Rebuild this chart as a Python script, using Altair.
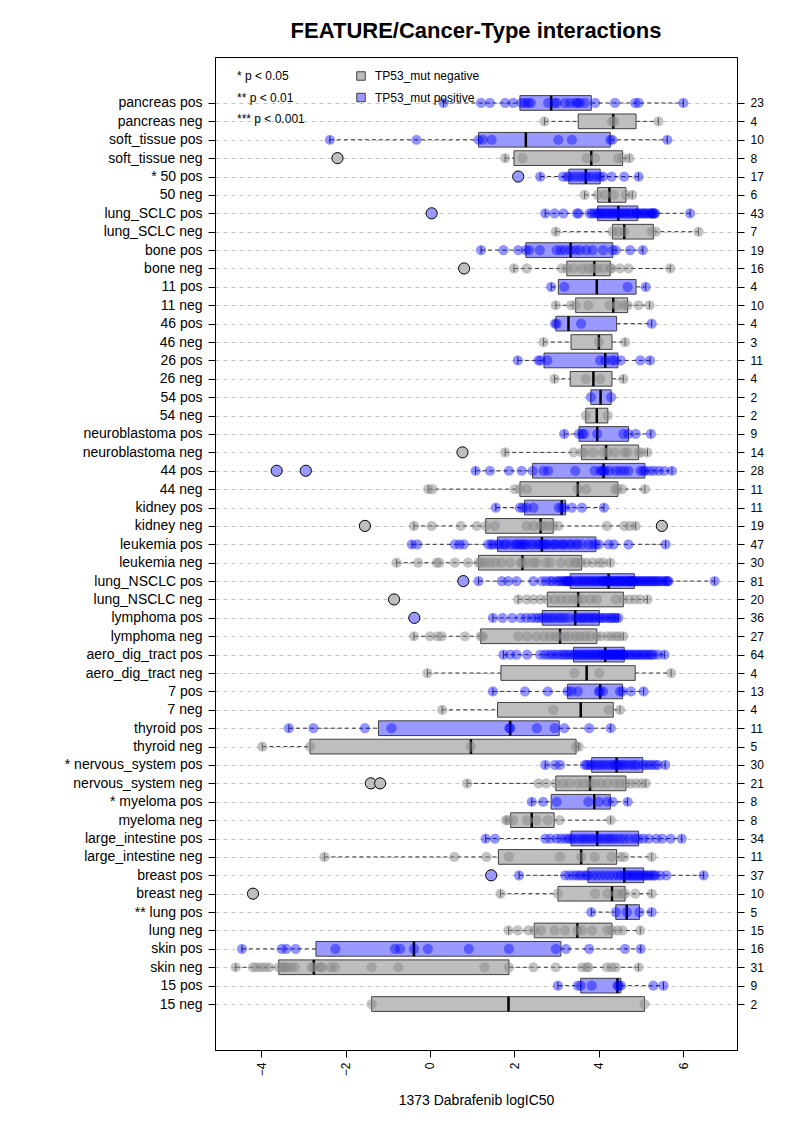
import json
import altair as alt
import pandas as pd

# ---------------- data (rows listed top -> bottom) ----------------
names = ["pancreas pos", "pancreas neg", "soft_tissue pos", "soft_tissue neg", "* 50 pos", "50 neg",
         "lung_SCLC pos", "lung_SCLC neg", "bone pos", "bone neg", "11 pos", "11 neg", "46 pos", "46 neg",
         "26 pos", "26 neg", "54 pos", "54 neg", "neuroblastoma pos", "neuroblastoma neg", "44 pos", "44 neg",
         "kidney pos", "kidney neg", "leukemia pos", "leukemia neg", "lung_NSCLC pos", "lung_NSCLC neg",
         "lymphoma pos", "lymphoma neg", "aero_dig_tract pos", "aero_dig_tract neg", "7 pos", "7 neg",
         "thyroid pos", "thyroid neg", "* nervous_system pos", "nervous_system neg", "* myeloma pos",
         "myeloma neg", "large_intestine pos", "large_intestine neg", "breast pos", "breast neg",
         "** lung pos", "lung neg", "skin pos", "skin neg", "15 pos", "15 neg"]
counts = [23, 4, 10, 8, 17, 6, 43, 7, 19, 16, 4, 10, 4, 3, 11, 4, 2, 2, 9, 14, 28, 11, 11, 19, 47, 30,
          81, 20, 36, 27, 64, 4, 13, 4, 11, 5, 30, 21, 8, 8, 34, 11, 37, 10, 5, 15, 16, 31, 9, 2]
whisker_lo = [0.32, 2.71, -2.37, 1.78, 2.61, 3.66, 2.73, 2.98, 1.21, 1.99, 2.87, 2.98, 2.96, 2.69, 2.08, 2.95,
              3.81, 3.69, 3.18, 1.78, 1.08, -0.04, 1.56, -0.38, -0.43, -0.79, 1.15, 2.09, 1.49, -0.38, 1.74,
              -0.06, 1.49, 0.29, -3.34, -3.97, 2.73, 0.88, 2.41, 1.8, 1.32, -2.5, 2.11, 1.67, 3.82, 1.86,
              -4.45, -4.6, 3.03, -1.38]
q1 = [2.13, 3.51, 1.15, 1.99, 3.29, 3.97, 3.97, 4.32, 2.27, 3.24, 3.04, 3.45, 2.98, 3.34, 2.70, 3.32,
      3.81, 3.69, 3.53, 3.59, 2.43, 2.13, 2.24, 1.32, 1.6, 1.15, 3.32, 2.78, 2.66, 1.2, 3.4,
      1.68, 3.26, 1.6, -1.22, -2.84, 3.83, 2.98, 2.87, 1.91, 3.34, 1.62, 3.74, 3.03, 4.4, 2.47,
      -2.70, -3.58, 3.57, -1.38]
median = [2.87, 4.34, 2.27, 3.82, 3.69, 4.25, 4.46, 4.6, 3.33, 3.89, 3.95, 4.34, 3.28, 4.0, 4.15, 3.87,
          4.04, 3.95, 3.96, 4.17, 4.11, 3.5, 3.12, 2.62, 2.65, 2.19, 4.23, 3.51, 3.44, 3.08, 4.15,
          3.71, 4.03, 3.57, 1.9, 0.97, 4.42, 3.79, 3.89, 2.41, 3.96, 3.58, 4.6, 4.31, 4.66, 3.49,
          -0.38, -2.75, 4.44, 1.86]
q3 = [3.82, 4.88, 4.27, 4.56, 4.03, 4.64, 4.92, 5.29, 4.33, 4.27, 4.88, 4.68, 4.42, 4.31, 4.45, 4.31,
      4.29, 4.21, 4.70, 4.94, 5.09, 4.45, 3.21, 2.92, 3.93, 3.59, 4.84, 4.58, 4.01, 3.95, 4.6,
      4.86, 4.56, 4.34, 3.06, 3.46, 5.04, 4.64, 4.27, 2.94, 4.94, 4.42, 5.06, 4.62, 4.96, 4.31,
      3.10, 1.87, 4.52, 5.08]
whisker_hi = [6.0, 5.41, 5.62, 4.72, 4.94, 4.79, 6.16, 6.36, 5.04, 5.69, 5.11, 5.2, 5.25, 4.62, 5.21, 4.58,
              4.29, 4.21, 5.23, 5.15, 5.73, 5.09, 4.12, 4.87, 5.58, 4.27, 6.74, 5.15, 4.46, 4.58, 5.55,
              5.71, 5.06, 4.5, 4.28, 3.52, 5.57, 5.11, 4.68, 4.28, 5.96, 5.25, 6.48, 5.25, 5.25, 4.98,
              4.99, 4.94, 5.53, 5.08]
outliers = [[], [], [], [-2.19], [2.09], [], [0.04], [], [], [0.81], [], [], [], [], [], [], [], [], [],
            [0.77], [-3.63, -2.94], [], [], [-1.54, 5.49], [], [], [0.79], [-0.85], [-0.37], [], [], [],
            [], [], [], [], [], [-1.40, -1.18], [], [], [], [], [1.45], [-4.19], [], [], [], [], [], []]
cell_values = [
    [0.32, 1.21, 1.42, 1.78, 1.97, 2.17, 2.25, 2.33, 2.39, 2.8, 2.95, 3.0, 3.2, 3.32, 3.44, 3.5, 3.55, 3.67,
     3.91, 4.38, 4.86, 4.94, 6.0],
    [2.71, 4.31, 4.36, 5.41],
    [-2.37, -0.32, 1.15, 1.25, 1.46, 3.04, 3.36, 4.27, 4.32, 5.62],
    [-2.19, 1.78, 2.19, 3.71, 3.91, 4.46, 4.56, 4.72],
    [2.09, 2.61, 3.15, 3.25, 3.3, 3.4, 3.5, 3.6, 3.69, 3.75, 3.85, 3.95, 4.03, 4.1, 4.3, 4.6, 4.94],
    [3.66, 3.97, 4.15, 4.35, 4.64, 4.79],
    [0.04, 2.73, 2.95, 3.16, 3.48, 3.52, 3.78, 3.84, 3.9, 3.96, 3.99, 4.03, 4.08, 4.12, 4.18, 4.22, 4.27,
     4.31, 4.36, 4.41, 4.46, 4.5, 4.55, 4.61, 4.64, 4.7, 4.74, 4.8, 4.86, 4.9, 4.92, 4.97, 5.02, 5.06, 5.1,
     5.14, 5.19, 5.23, 5.26, 5.29, 5.31, 5.33, 6.16],
    [2.98, 4.32, 4.45, 4.6, 5.25, 5.35, 6.36],
    [1.21, 1.74, 2.09, 2.27, 2.35, 2.6, 3.0, 3.1, 3.2, 3.33, 3.45, 3.55, 3.7, 3.85, 4.1, 4.33, 4.4, 4.74, 5.04],
    [0.81, 1.99, 2.29, 3.12, 3.24, 3.4, 3.6, 3.75, 3.85, 3.95, 4.1, 4.27, 4.3, 4.5, 4.7, 5.69],
    [2.87, 3.18, 4.68, 5.11],
    [2.98, 3.34, 3.45, 3.75, 4.25, 4.43, 4.6, 4.68, 4.94, 5.2],
    [2.96, 3.0, 3.58, 5.25],
    [2.69, 4.0, 4.62],
    [2.08, 2.57, 2.62, 2.78, 4.03, 4.15, 4.3, 4.38, 4.52, 4.98, 5.21],
    [2.95, 3.69, 4.03, 4.58],
    [3.81, 4.29],
    [3.69, 4.21],
    [3.18, 3.53, 3.6, 3.65, 3.96, 4.58, 4.7, 4.87, 5.23],
    [0.77, 1.78, 3.4, 3.59, 3.66, 3.87, 4.1, 4.2, 4.38, 4.6, 4.68, 4.94, 5.0, 5.15],
    [-3.63, -2.94, 1.08, 1.42, 1.87, 2.17, 2.43, 2.69, 2.8, 3.44, 3.9, 4.03, 4.08, 4.11, 4.15, 4.25, 4.4,
     4.5, 4.6, 4.7, 4.98, 5.05, 5.1, 5.2, 5.3, 5.42, 5.55, 5.73],
    [-0.04, 0.06, 2.01, 2.13, 2.3, 3.5, 3.7, 4.38, 4.45, 4.55, 5.09],
    [1.56, 2.13, 2.2, 2.28, 2.45, 3.05, 3.12, 3.18, 3.36, 3.6, 4.12],
    [-1.54, -0.38, 0.04, 0.73, 1.11, 1.32, 1.54, 2.29, 2.45, 2.62, 2.7, 2.8, 2.92, 3.04, 4.19, 4.6, 4.73,
     4.87, 5.49],
    [-0.43, -0.3, 0.59, 0.7, 0.8, 1.38, 1.45, 1.5, 1.6, 1.65, 1.75, 1.8, 1.9, 2.0, 2.05, 2.1, 2.15, 2.2,
     2.25, 2.3, 2.4, 2.45, 2.55, 2.6, 2.65, 2.7, 2.75, 2.8, 2.9, 2.95, 3.0, 3.1, 3.15, 3.2, 3.3, 3.35, 3.45,
     3.5, 3.6, 3.75, 3.85, 3.93, 4.0, 4.23, 4.35, 4.7, 5.58],
    [-0.79, -0.28, 0.16, 0.22, 0.59, 0.9, 1.15, 1.2, 1.3, 1.42, 1.55, 1.7, 1.9, 2.15, 2.19, 2.3, 2.45, 2.52,
     2.75, 2.85, 3.1, 3.3, 3.43, 3.5, 3.59, 3.7, 3.85, 4.0, 4.1, 4.27],
    [0.79, 1.15, 1.7, 1.85, 2.05, 2.45, 2.65, 2.75, 2.85, 2.9, 3.0, 3.05, 3.1, 3.15, 3.2, 3.22, 3.25, 3.28,
     3.3, 3.32, 3.38, 3.45, 3.5, 3.55, 3.6, 3.65, 3.7, 3.75, 3.8, 3.85, 3.9, 3.95, 4.0, 4.05, 4.08, 4.1,
     4.15, 4.18, 4.2, 4.23, 4.26, 4.3, 4.33, 4.36, 4.4, 4.43, 4.46, 4.5, 4.53, 4.56, 4.6, 4.63, 4.66, 4.7,
     4.73, 4.76, 4.78, 4.8, 4.82, 4.84, 4.88, 4.92, 4.96, 5.0, 5.04, 5.08, 5.12, 5.16, 5.2, 5.24, 5.28,
     5.32, 5.36, 5.4, 5.45, 5.5, 5.55, 5.6, 5.62, 5.65, 6.74],
    [-0.85, 2.09, 2.29, 2.45, 2.62, 2.78, 2.95, 3.1, 3.25, 3.4, 3.51, 3.62, 3.8, 3.95, 4.4, 4.58, 4.72,
     4.85, 4.98, 5.15],
    [-0.37, 1.49, 1.72, 1.95, 2.15, 2.28, 2.4, 2.5, 2.58, 2.66, 2.72, 2.8, 2.88, 2.95, 3.05, 3.12, 3.2, 3.3,
     3.44, 3.5, 3.58, 3.62, 3.68, 3.75, 3.8, 3.87, 3.92, 4.01, 4.05, 4.12, 4.18, 4.25, 4.3, 4.36, 4.4, 4.46],
    [-0.38, 0.0, 0.18, 0.28, 0.83, 1.2, 1.25, 2.09, 2.3, 2.52, 2.7, 2.85, 2.98, 3.08, 3.2, 3.3, 3.45, 3.55,
     3.68, 3.8, 3.95, 4.05, 4.2, 4.3, 4.4, 4.48, 4.58],
    [1.74, 1.9, 2.05, 2.3, 2.61, 2.72, 2.8, 2.88, 2.95, 3.02, 3.1, 3.16, 3.22, 3.28, 3.34, 3.4, 3.45, 3.5,
     3.55, 3.6, 3.65, 3.7, 3.75, 3.8, 3.85, 3.9, 3.95, 4.0, 4.05, 4.08, 4.12, 4.15, 4.18, 4.2, 4.23, 4.26,
     4.29, 4.32, 4.35, 4.38, 4.41, 4.44, 4.47, 4.5, 4.53, 4.55, 4.58, 4.6, 4.65, 4.7, 4.75, 4.8, 4.85, 4.9,
     4.95, 5.0, 5.05, 5.1, 5.15, 5.2, 5.25, 5.3, 5.4, 5.55],
    [-0.06, 3.42, 4.01, 5.71],
    [1.49, 2.25, 2.79, 3.26, 3.35, 3.5, 4.0, 4.03, 4.1, 4.5, 4.56, 4.76, 5.06],
    [0.29, 2.92, 4.23, 4.5],
    [-3.34, -2.76, -1.54, -0.91, 1.88, 1.9, 2.53, 2.95, 3.18, 3.77, 4.28],
    [-3.97, -2.84, 0.97, 3.46, 3.52],
    [2.73, 2.96, 3.08, 3.67, 3.72, 3.78, 3.83, 3.9, 3.98, 4.05, 4.12, 4.2, 4.28, 4.35, 4.4, 4.44, 4.5, 4.55,
     4.62, 4.7, 4.78, 4.85, 4.92, 5.04, 5.1, 5.18, 5.25, 5.33, 5.4, 5.57],
    [-1.40, -1.18, 0.88, 2.57, 2.75, 2.98, 3.15, 3.3, 3.5, 3.65, 3.79, 3.9, 4.05, 4.2, 4.38, 4.5, 4.64,
     4.75, 4.88, 5.0, 5.11],
    [2.41, 2.68, 3.0, 3.75, 4.0, 4.2, 4.33, 4.68],
    [1.8, 1.85, 1.97, 2.3, 2.52, 2.79, 3.07, 4.28],
    [1.32, 1.54, 2.73, 2.85, 3.0, 3.1, 3.2, 3.28, 3.34, 3.4, 3.5, 3.58, 3.65, 3.72, 3.8, 3.88, 3.96, 4.02,
     4.1, 4.18, 4.25, 4.32, 4.4, 4.5, 4.6, 4.72, 4.85, 4.94, 5.05, 5.18, 5.36, 5.5, 5.7, 5.96],
    [-2.5, 0.58, 1.34, 1.87, 3.08, 3.58, 3.9, 4.3, 4.5, 4.6, 5.25],
    [1.45, 2.11, 3.2, 3.3, 3.4, 3.48, 3.55, 3.62, 3.7, 3.74, 3.85, 3.95, 4.05, 4.15, 4.25, 4.35, 4.45, 4.52,
     4.6, 4.65, 4.7, 4.75, 4.8, 4.85, 4.9, 4.95, 5.0, 5.06, 5.1, 5.15, 5.2, 5.25, 5.3, 5.34, 5.45, 5.6, 6.48],
    [-4.19, 1.67, 3.03, 3.91, 4.2, 4.42, 4.55, 4.62, 4.86, 5.25],
    [3.82, 4.4, 4.66, 4.96, 5.25],
    [1.86, 2.08, 2.33, 2.47, 2.63, 2.95, 3.2, 3.49, 3.6, 3.84, 4.2, 4.31, 4.44, 4.56, 4.98],
    [-4.45, -3.51, -3.4, -3.18, -2.24, -0.83, -0.71, -0.38, -0.05, 0.92, 1.87, 2.98, 3.22, 3.77, 4.62, 4.99],
    [-4.6, -4.19, -4.1, -4.0, -3.9, -3.8, -3.58, -3.5, -3.45, -3.4, -3.3, -3.2, -2.8, -2.75, -2.6, -2.56,
     -2.35, -2.25, -1.38, -0.75, 1.29, 1.87, 2.45, 2.98, 3.6, 3.71, 3.75, 4.19, 4.3, 4.4, 4.94],
    [3.03, 3.5, 3.57, 3.83, 4.44, 4.47, 4.52, 5.29, 5.53],
    [-1.38, 5.08],
]
sig_labels = ["* p < 0.05", "** p < 0.01", "*** p < 0.001"]
legend_labels = ["TP53_mut negative", "TP53_mut positive"]
x_ticks = [-4, -2, 0, 2, 4, 6]
chart_title = "FEATURE/Cancer-Type interactions"
x_title = "1373 Dabrafenib logIC50"

# ---------------- tables ----------------
nrow = len(names)
grp = ["pos" if n.endswith("pos") else "neg" for n in names]
box_df = pd.DataFrame({
    "name": names, "p": [nrow - k for k in range(nrow)], "grp": grp,
    "lo": whisker_lo, "q1": q1, "med": median, "q3": q3, "hi": whisker_hi,
})
pts_df = pd.DataFrame([{"p": nrow - k, "grp": grp[k], "v": v}
                       for k in range(nrow) for v in cell_values[k]])
out_df = pd.DataFrame([{"p": nrow - k, "grp": grp[k], "v": v}
                       for k in range(nrow) for v in outliers[k]])

FONT = "Liberation Sans"
BOX_FILL = ["#BEBEBE", "#9999FF"]
PT_COL = ["#888888", "#0000FF"]

xs = alt.Scale(domain=[-5.09, 7.27], nice=False, zero=False)
ys = alt.Scale(domain=[-1.5, 52.5], nice=False, zero=False)
xaxis = alt.Axis(values=x_ticks, title=x_title, labelAngle=270, labelFontSize=12, tickSize=7,
                 labelPadding=5, titleFontSize=14, titleFontWeight="normal", titlePadding=18,
                 grid=False, domainColor="black", tickColor="black", labelColor="black",
                 titleColor="black", labelFont=FONT, titleFont=FONT)
left_expr = json.dumps(names[::-1]) + "[datum.value - 1]"
right_expr = json.dumps([str(c) for c in counts[::-1]]) + "[datum.value - 1]"
yaxis = alt.Axis(values=list(range(1, nrow + 1)), labelExpr=left_expr, title=None, labelFontSize=14,
                 tickSize=7, labelPadding=6, grid=True, gridDash=[4, 4], gridColor="#C4C4C4",
                 gridWidth=1, domainColor="black", tickColor="black", labelColor="black",
                 labelOverlap=False, labelFont=FONT)
yaxis_r = alt.Axis(values=list(range(1, nrow + 1)), labelExpr=right_expr, title=None, orient="right",
                   labelFontSize=12, tickSize=7, labelPadding=6, grid=False, domainColor="black",
                   tickColor="black", labelColor="black", labelOverlap=False, labelFont=FONT)


def X(f):
    return alt.X(f"{f}:Q", scale=xs, axis=xaxis)


def Y(f):
    return alt.Y(f"{f}:Q", scale=ys, axis=yaxis)


fill_scale = alt.Scale(domain=["neg", "pos"], range=BOX_FILL)

base = alt.Chart(box_df).transform_calculate(
    plo="datum.p - 0.4", phi="datum.p + 0.4", slo="datum.p - 0.2", shi="datum.p + 0.2")

wl = base.mark_rule(strokeDash=[4, 3], color="#333333", strokeWidth=1).encode(
    x=X("lo"), x2="q1:Q", y=Y("p"))
wr = base.mark_rule(strokeDash=[4, 3], color="#333333", strokeWidth=1).encode(
    x=X("q3"), x2="hi:Q", y=Y("p"))
sl = base.mark_rule(color="#333333", strokeWidth=1).encode(x=X("lo"), y=Y("slo"), y2="shi:Q")
sh = base.mark_rule(color="#333333", strokeWidth=1).encode(x=X("hi"), y=Y("slo"), y2="shi:Q")
boxes = base.mark_rect(stroke="#404040", strokeWidth=1).encode(
    x=X("q1"), x2="q3:Q", y=Y("plo"), y2="phi:Q",
    fill=alt.Fill("grp:N", scale=fill_scale, legend=None))
meds = base.mark_rule(color="black", strokeWidth=2.5).encode(x=X("med"), y=Y("plo"), y2="phi:Q")
pts = alt.Chart(pts_df).mark_circle(size=105).encode(
    x=X("v"), y=Y("p"),
    color=alt.Color("grp:N", scale=alt.Scale(domain=["neg", "pos"], range=PT_COL), legend=None),
    opacity=alt.Opacity("grp:N", scale=alt.Scale(domain=["neg", "pos"], range=[0.5, 0.42]), legend=None))
outs = alt.Chart(out_df).mark_point(shape="circle", filled=True, size=125, stroke="black",
                                    strokeWidth=1, opacity=1).encode(
    x=X("v"), y=Y("p"), fill=alt.Fill("grp:N", scale=fill_scale, legend=None))

# in-plot legend (layout positions in pixels)
leg_layers = []
for i, lab in enumerate(sig_labels):
    leg_layers.append(alt.Chart(pd.DataFrame({"t": [lab]})).mark_text(
        align="left", baseline="middle", fontSize=12, font=FONT, color="black").encode(
        x=alt.value(22), y=alt.value(19 + 21.5 * i), text="t:N"))
for i, lab in enumerate(legend_labels):
    leg_layers.append(alt.Chart(pd.DataFrame({"t": [lab]})).mark_text(
        align="left", baseline="middle", fontSize=12, font=FONT, color="black").encode(
        x=alt.value(160), y=alt.value(19 + 21.5 * i), text="t:N"))
    leg_layers.append(alt.Chart(pd.DataFrame({"t": [lab]})).mark_point(
        shape="square", filled=True, size=72, fill=BOX_FILL[i], stroke="#404040", strokeWidth=1,
        opacity=1).encode(x=alt.value(146), y=alt.value(19 + 21.5 * i)))

main = alt.layer(wl, wr, sl, sh, boxes, meds, pts, outs, *leg_layers)
right = alt.Chart(box_df).mark_point(opacity=0).encode(y=alt.Y("p:Q", scale=ys, axis=yaxis_r))

chart = alt.layer(main, right).resolve_scale(y="independent").properties(
    width=522, height=993,
    title=alt.TitleParams(chart_title, fontSize=22, fontWeight="bold", anchor="middle", offset=14,
                          font=FONT, color="black"),
    padding={"left": 207, "top": 49, "right": 48, "bottom": 60},
    autosize=alt.AutoSizeParams(type="none"),
).configure(font=FONT).configure_view(stroke="black", strokeWidth=1)

chart.save("out.html", embed_options={"renderer": "svg", "actions": False})
